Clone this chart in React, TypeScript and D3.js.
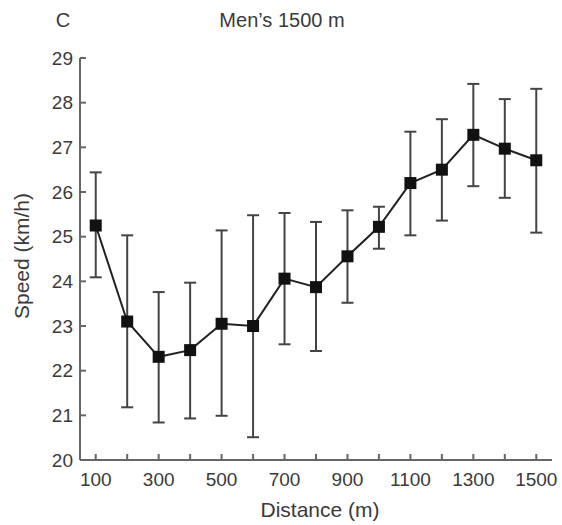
import React from "react";
import * as d3 from "d3";

const distances = [100, 200, 300, 400, 500, 600, 700, 800, 900, 1000, 1100, 1200, 1300, 1400, 1500];
const speedMean = [25.25, 23.1, 22.31, 22.46, 23.05, 23.0, 24.06, 23.87, 24.56, 25.22, 26.2, 26.5, 27.28, 26.97, 26.71];
const speedUpper = [26.44, 25.03, 23.76, 23.97, 25.14, 25.48, 25.53, 25.33, 25.59, 25.67, 27.35, 27.63, 28.42, 28.08, 28.31];
const speedLower = [24.09, 21.18, 20.84, 20.93, 20.99, 20.51, 22.59, 22.44, 23.52, 24.73, 25.03, 25.36, 26.13, 25.87, 25.09];
const yTicks = [20, 21, 22, 23, 24, 25, 26, 27, 28, 29];
const xLabelTicks = [100, 300, 500, 700, 900, 1100, 1300, 1500];

const W = 562;
const H = 525;
const left = 80;
const right = 552;
const top = 58;
const bottom = 460;
const FONT = "'Liberation Sans', Arial, sans-serif";

export default function App() {
  const x = d3.scaleLinear().domain([50, 1550]).range([left, right]);
  const y = d3.scaleLinear().domain([20, 29]).range([bottom, top]);
  const line = d3
    .line<number>()
    .x((_, i) => x(distances[i]))
    .y((d) => y(d));
  const axisColor = "#666";
  const textColor = "#3a3a3a";
  const tickLen = 6;
  const capW = 12;
  const sq = 12;

  return (
    <svg width={W} height={H} style={{ position: "absolute", left: 0, top: 0, background: "#fff" }}>
      <text x={63} y={27} fontFamily={FONT} fontSize={20} fill={textColor} textAnchor="middle">C</text>
      <text x={282} y={27} fontFamily={FONT} fontSize={20} fill={textColor} textAnchor="middle">Men’s 1500 m</text>

      {/* axes */}
      <line x1={left} x2={left} y1={y(29)} y2={bottom} stroke={axisColor} strokeWidth={2} />
      <line x1={left} x2={right} y1={bottom} y2={bottom} stroke={axisColor} strokeWidth={2} />
      {yTicks.map((t) => (
        <g key={t}>
          <line x1={left} x2={left + tickLen} y1={y(t)} y2={y(t)} stroke={axisColor} strokeWidth={2} />
          <text x={left - 7} y={y(t)} dy="0.35em" fontFamily={FONT} fontSize={19} fill={textColor} textAnchor="end">{t}</text>
        </g>
      ))}
      {distances.map((d) => (
        <line key={d} x1={x(d)} x2={x(d)} y1={bottom} y2={bottom - tickLen} stroke={axisColor} strokeWidth={2} />
      ))}
      {xLabelTicks.map((d) => (
        <text key={d} x={x(d)} y={bottom + 26} fontFamily={FONT} fontSize={19} fill={textColor} textAnchor="middle">{d}</text>
      ))}
      <text x={320} y={517} fontFamily={FONT} fontSize={21} fill={textColor} textAnchor="middle">Distance (m)</text>
      <text transform={`translate(29,256) rotate(-90)`} fontFamily={FONT} fontSize={21} fill={textColor} textAnchor="middle">Speed (km/h)</text>

      {/* error bars */}
      {distances.map((d, i) => (
        <g key={d} stroke="#444" strokeWidth={2}>
          <line x1={x(d)} x2={x(d)} y1={y(speedUpper[i])} y2={y(speedLower[i])} />
          <line x1={x(d) - capW / 2} x2={x(d) + capW / 2} y1={y(speedUpper[i])} y2={y(speedUpper[i])} />
          <line x1={x(d) - capW / 2} x2={x(d) + capW / 2} y1={y(speedLower[i])} y2={y(speedLower[i])} />
        </g>
      ))}
      <path d={line(speedMean) ?? ""} fill="none" stroke="#222" strokeWidth={2} />
      {distances.map((d, i) => (
        <rect key={d} x={x(d) - sq / 2} y={y(speedMean[i]) - sq / 2} width={sq} height={sq} fill="#111" />
      ))}
    </svg>
  );
}
